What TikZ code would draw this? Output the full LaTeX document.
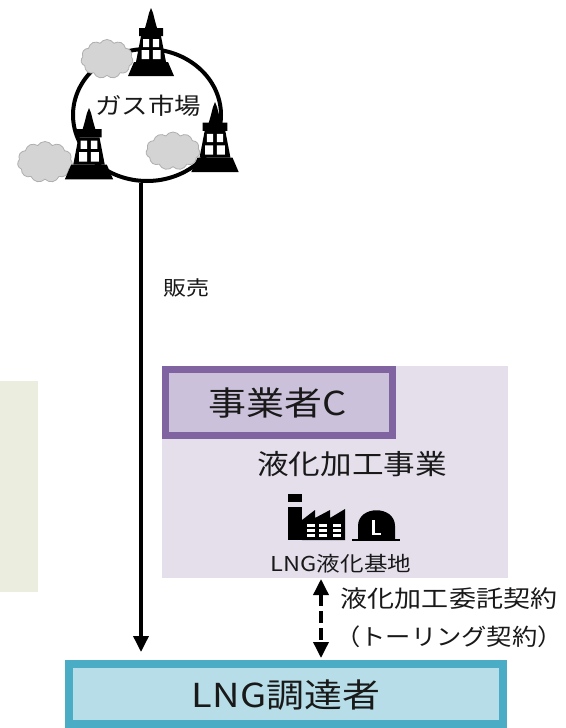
\documentclass[tikz,border=0pt]{standalone}
\usepackage{fontspec}
\setmainfont{Noto Sans CJK JP}
\usetikzlibrary{arrows.meta,shapes.geometric,shapes.symbols}

\definecolor{sidegreen}{RGB}{235,238,222}
\definecolor{opspanel}{RGB}{229,223,236}
\definecolor{opsfill}{RGB}{204,193,218}
\definecolor{opsline}{RGB}{128,100,162}
\definecolor{buyfill}{RGB}{183,222,232}
\definecolor{buyline}{RGB}{75,172,198}
\definecolor{cloudgray}{RGB}{212,212,212}
\definecolor{cloudedge}{RGB}{175,175,175}

% text set in a given pixel size, slightly widened
\newcommand\wtxt[3][1.15]{{\fontsize{#2}{#2}\selectfont\scalebox{#1}[1]{#3}}}

\tikzset{
  bigtri/.tip={Triangle[width=15pt,length=16pt]},
  panel/.style={rectangle, inner sep=0pt, outer sep=0pt},
  label/.style={inner sep=0pt, outer sep=0pt, text=black!90},
  puff/.style={cloud, cloud puffs=11, cloud puff arc=115, inner sep=0pt,
    fill=cloudgray, draw=cloudedge, line width=0.8pt},
  tower/.pic={
    \fill[black] (0,0) -- (2,5) -- (4,13) -- (6,20) -- (12,20) -- (12,28)
      -- (-12,28) -- (-12,20) -- (-6,20) -- (-4,13) -- (-2,5) -- cycle;
    \fill[black] (-10,28) -- (10,28) -- (15,54) -- (-15,54) -- cycle;
    \fill[black] (-17,54) -- (17,54) -- (23,68) -- (-23,68) -- cycle;
    \fill[white] (-8,31) rectangle (-1.8,39) (1.8,31) rectangle (8,39)
      (-9.5,42) rectangle (-1.8,51) (1.8,42) rectangle (9.5,51);
  }
}

\begin{document}
\begin{tikzpicture}[x=1pt, y=-1pt]
\useasboundingbox (0,0) rectangle (565,728);
\fill[white] (0,0) rectangle (565,728);

% side panel and operator panel
\node[panel, fill=sidegreen, minimum width=38, minimum height=211] (side) at (19,486.5) {};
\node[panel, fill=opspanel, minimum width=346, minimum height=212] (ops) at (335,472) {};

% operator C heading box
\node[panel, fill=opsfill, draw=opsline, line width=7pt,
      minimum width=227, minimum height=66] (opc) at (279,402.5) {};
\node[label] (opctxt) at (278,403) {\wtxt{33}{事業者C}};
\node[label] (busi) at (352,464) {\wtxt{27.5}{液化加工事業}};

% liquefaction plant icon: factory
\fill[black] (288,494) rectangle (302,502);
\fill[black] (288,507) rectangle (302,540);
\fill[black] (302,540) -- (302,520) -- (315,510) -- (315,518) -- (330,510)
  -- (330,518) -- (345,509) -- (345,540) -- cycle;
\foreach \gx in {307,319,333}{
  \foreach \gy in {524,529,534}{
    \fill[white] (\gx,\gy) rectangle ++(8,3);
  }
}
% liquefaction plant icon: storage tank
\fill[black] (358,540) -- (358,526) .. controls (358,505) and (395,505) .. (395,526)
  -- (395,540) -- cycle;
\draw[black, line width=2pt] (352,540) -- (400,540);
\draw[white, line width=2.5pt] (373.5,520) -- (373.5,534) -- (381,534);
\node[label] (plant) at (341,564) {\wtxt{20.5}{LNG液化基地}};

% gas market
\node[draw, ellipse, line width=4pt, minimum width=148, minimum height=132,
      inner sep=0pt] (market) at (147,115) {};
\node[puff, aspect=1.35, minimum width=52, minimum height=39] (cloudA) at (107,59) {};
\node[puff, aspect=1.35, minimum width=55, minimum height=41] (cloudB) at (45,162) {};
\node[puff, aspect=1.4, minimum width=54, minimum height=38] (cloudC) at (173,151) {};
\pic at (151,8) {tower};
\pic[scale=1.05] at (89,108) {tower};
\pic[scale=1.03] at (215,102) {tower};
\node[label] (mkttxt) at (148,106) {\wtxt{23}{ガス市場}};

% buyer box
\node[panel, fill=buyfill, draw=buyline, line width=8pt,
      minimum width=434, minimum height=60] (buyer) at (286,694) {};
\node[label] (buytxt) at (286,695) {\wtxt{33}{LNG調達者}};

% sales flow
\coordinate (saleend) at (141,652);
\draw[line width=3.5pt, -{bigtri}] (market.south -| saleend) -- (saleend);
\node[label] (sale) at (186,288) {\wtxt{20}{販売}};

% tolling contract
\coordinate (tolltop) at (321,579);
\coordinate (tollbot) at (321,658);
\draw[line width=3.5pt, dash pattern=on 12pt off 5pt, {bigtri}-{bigtri}] (tolltop) -- (tollbot);
\node[label] (toll1) at (449,599) {\wtxt{23.5}{液化加工委託契約}};
\node[label] (toll2) at (449,637) {\wtxt[1.1]{23}{（トーリング契約）}};
\end{tikzpicture}
\end{document}
